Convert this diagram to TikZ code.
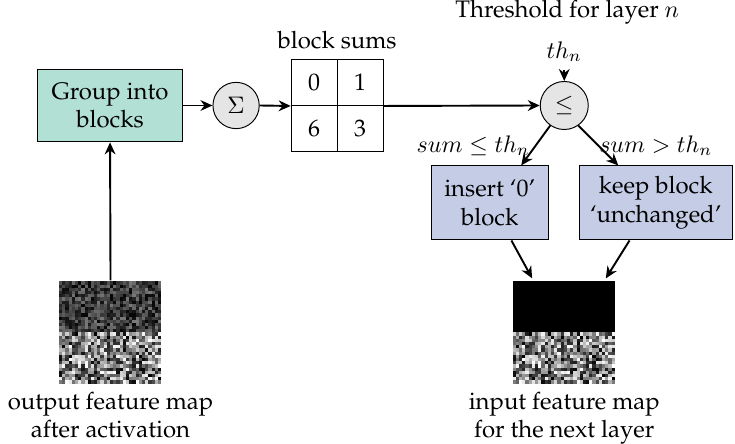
\documentclass[tikz,border=0pt]{standalone}
\usepackage[T1]{fontenc}
\renewcommand{\rmdefault}{ppl}
\usepackage{amsmath}
\usetikzlibrary{arrows.meta}

\definecolor{grpgreen}{RGB}{179,224,212}
\definecolor{selblue}{RGB}{197,205,230}

% size of one activation pixel in the feature maps
\def\fmpix{0.046875}
\def\fmpixov{0.0485}

\tikzset{
  procbox/.style={draw, align=center, inner sep=0pt},
  opcirc/.style={draw, circle, fill=black!10, minimum size=0.68cm, inner sep=0pt},
  sumcell/.style={draw, minimum size=0.676cm, inner sep=0pt},
  fmap/.style={minimum size=1.5cm, inner sep=0pt},
  flow/.style={-{Stealth[length=5pt,width=4.5pt]}, thick},
}

\begin{document}
\begin{tikzpicture}
    \useasboundingbox (0,0) rectangle (10.8,6.51);

    % grouping and summing
    \node[procbox, fill=grpgreen, minimum width=2.12cm, minimum height=1.07cm] (grp) at (1.617,4.96) {Group into\\blocks};
    \node[opcirc] (sum) at (3.469,4.96) {$\Sigma$};

    \node[sumcell] (s00) at (4.616,5.298) {0};
    \node[sumcell] (s01) at (5.292,5.298) {1};
    \node[sumcell] (s10) at (4.616,4.622) {6};
    \node[sumcell] (s11) at (5.292,4.622) {3};
    \node (sumlbl) at (4.954,5.924) {block sums};

    % comparison against the threshold
    \node[opcirc, minimum size=0.706cm] (cmp) at (8.291,4.96) {$\leq$};
    \node (thr) at (8.335,6.336) {Threshold for layer $n$};
    \node (th) at (8.291,5.748) {$th_n$};

    \node[procbox, fill=selblue, minimum width=1.72cm, minimum height=1.088cm] (ins) at (7.196,3.528) {insert `0'\\block};
    \node[procbox, fill=selblue, minimum width=2.249cm, minimum height=1.088cm] (keep) at (9.636,3.528) {keep block\\`unchanged'};

    % feature maps
    \node[fmap] (fout) at (1.624,1.632) {};
    \node[fmap] (fin) at (8.291,1.632) {};

    \pgfmathsetseed{11}
    \begin{scope}[shift={(fout.south west)}]
        \foreach \i in {0,...,31}
            \foreach \j in {16,...,31}{
                \pgfmathsetmacro{\lum}{2+46*rnd}
                \fill[white!\lum!black] (\i*\fmpix,\j*\fmpix) rectangle ++(\fmpixov,\fmpixov);
            }
    \end{scope}

    % lower half is the same in both maps
    \pgfmathsetseed{5}
    \begin{scope}[shift={(fout.south west)}]
        \foreach \i in {0,...,31}
            \foreach \j in {0,...,15}{
                \pgfmathsetmacro{\lum}{100*rnd}
                \fill[white!\lum!black] (\i*\fmpix,\j*\fmpix) rectangle ++(\fmpixov,\fmpixov);
            }
    \end{scope}

    \pgfmathsetseed{5}
    \begin{scope}[shift={(fin.south west)}]
        \fill[black] (0,0.75) rectangle (1.5,1.5);
        \foreach \i in {0,...,31}
            \foreach \j in {0,...,15}{
                \pgfmathsetmacro{\lum}{100*rnd}
                \fill[white!\lum!black] (\i*\fmpix,\j*\fmpix) rectangle ++(\fmpixov,\fmpixov);
            }
    \end{scope}

    \node[below, align=center] (foutlbl) at (fout.south) {output feature map\\after activation};
    \node[below, align=center] (finlbl) at (fin.south) {input feature map\\for the next layer};

    % connections
    \draw[flow] (fout.north) -- (grp.south);
    \draw[flow] (grp.east) -- (sum.west);
    \draw[flow] (sum.east) -- (s00.south west);
    \draw[flow] (s01.south east) -- (cmp.west);
    \draw[flow] (th.south) -- (cmp.north);
    \draw[flow] (cmp.-125) -- (ins.50) node[midway, left, inner sep=2pt] {$sum \leq th_n$};
    \draw[flow] (cmp.-55) -- (keep.135) node[midway, right, inner sep=0pt] {$sum > th_n$};
    \draw[flow, shorten >=1pt] (ins.-60) -- (fin.121);
    \draw[flow, shorten >=1pt] (keep.-125) -- (fin.52);
\end{tikzpicture}
\end{document}
